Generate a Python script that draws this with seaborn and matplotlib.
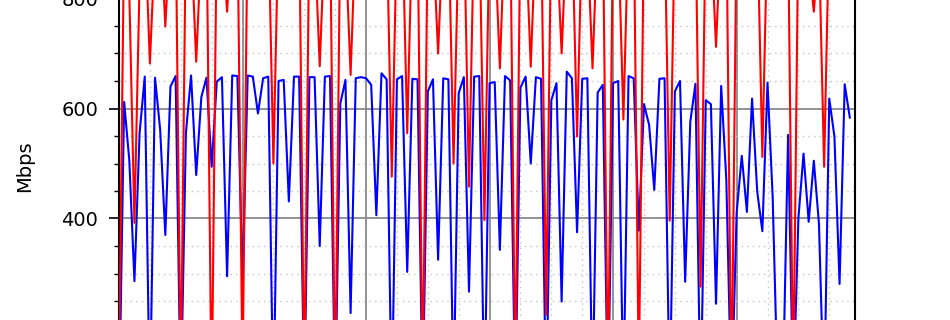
import numpy as np
import pandas as pd
import matplotlib
matplotlib.use("Agg")
import matplotlib.pyplot as plt
import seaborn as sns
from matplotlib.ticker import MultipleLocator, FuncFormatter

# hourly samples
hours = list(range(143))

blue_mbps = [
    40, 612, 506, 286, 555, 658, 50, 656, 561, 370,
    640, 659, 60, 555, 660, 479, 621, 656, 494, 649,
    657, 295, 660, 659, 283, 660, 658, 591, 655, 658,
    50, 650, 652, 431, 658, 658, 70, 657, 657, 350,
    658, 659, 60, 609, 652, 228, 655, 657, 655, 643,
    406, 664, 653, 50, 653, 659, 303, 654, 653, 60,
    631, 653, 325, 655, 653, 70, 628, 657, 267, 658,
    659, 50, 646, 648, 343, 659, 651, 60, 638, 658,
    500, 657, 654, 50, 615, 646, 249, 667, 655, 375,
    654, 655, 60, 629, 643, 50, 646, 650, 70, 659,
    655, 378, 608, 570, 452, 654, 655, 60, 631, 650,
    285, 576, 645, 50, 615, 608, 245, 641, 470, 60,
    410, 514, 412, 618, 449, 377, 647, 440, 80, 90,
    552, 70, 400, 518, 394, 505, 390, 60, 618, 549,
    281, 644, 583,
]

red_mbps = [
    120, 920, 810, 392, 830, 940, 682, 900, 950, 749,
    930, 960, 90, 940, 910, 685, 900, 950, 60, 940,
    920, 776, 930, 960, 110, 950, 920, 860, 910, 950,
    500, 940, 930, 880, 920, 960, 80, 950, 910, 677,
    920, 960, 70, 940, 900, 661, 930, 950, 880, 920,
    900, 950, 940, 476, 930, 960, 555, 940, 950, 90,
    940, 910, 700, 930, 950, 500, 920, 960, 458, 940,
    950, 397, 930, 910, 673, 940, 960, 100, 950, 920,
    676, 930, 960, 225, 950, 910, 700, 930, 950, 549,
    940, 910, 673, 930, 960, 80, 950, 920, 580, 940,
    960, 110, 940, 910, 870, 930, 950, 396, 940, 920,
    860, 930, 960, 276, 950, 920, 712, 940, 960, 70,
    940, 910, 880, 930, 950, 512, 940, 920, 890, 950,
    930, 90, 940, 910, 870, 776, 900, 494, 940, 950,
    900, 930, 940,
]

# tick labels that fall inside the visible crop
shown_ticks = [400, 600, 800]

df = pd.DataFrame({"hour": hours, "blue": blue_mbps, "red": red_mbps})

sns.set_style("white")
plt.rcParams['font.family'] = ['DejaVu Sans']
plt.rcParams['text.color'] = 'black'
plt.rcParams['axes.labelcolor'] = 'black'
plt.rcParams['xtick.color'] = 'black'
plt.rcParams['ytick.color'] = 'black'

W, H = 950, 320
fig = plt.figure(figsize=(W / 100, H / 100), dpi=100)
# axes extend beyond the figure (the reference is a crop)
y0_px = 438.5   # pixel row (from top) of value 0
y1000_px = -111.5
ax = fig.add_axes([119 / W, (H - y0_px) / H, 736 / W, (y0_px - y1000_px) / H])

sns.lineplot(data=df, x="hour", y="blue", color="#0000ff", linewidth=1.5, ax=ax, zorder=3)
sns.lineplot(data=df, x="hour", y="red", color="#ff0000", linewidth=1.5, ax=ax, zorder=4)

ax.set_xlim(0, 143)
ax.set_ylim(0, 1000)
ax.xaxis.set_major_locator(MultipleLocator(24))
ax.xaxis.set_minor_locator(MultipleLocator(6))
ax.yaxis.set_major_locator(MultipleLocator(200))
ax.yaxis.set_minor_locator(MultipleLocator(50))
ax.yaxis.set_major_formatter(FuncFormatter(
    lambda v, p: f"{v:.0f}" if round(v) in shown_ticks else ""))
ax.set_axisbelow(True)
ax.grid(which="major", color="#8a8a8a", linewidth=1.3, linestyle="-")
ax.grid(which="minor", color="#c4c4c4", linewidth=1.0, linestyle=(0, (1, 3)))

ax.tick_params(axis="y", which="major", labelsize=14, length=7, width=1.2, pad=8,
               direction="out", left=True, colors="black")
ax.tick_params(axis="y", which="minor", length=3.5, width=1, direction="out", left=True)
# x tick labels lie below the visible crop
ax.tick_params(axis="x", which="both", labelbottom=False)
ax.set_xlabel("")
ax.set_ylabel("Mbps", fontsize=14, color="black")
ax.yaxis.set_label_coords(-0.1155, 0.4955)

for s in ax.spines.values():
    s.set_color("black")
    s.set_linewidth(1.5)

fig.savefig("out.png", dpi=100)
